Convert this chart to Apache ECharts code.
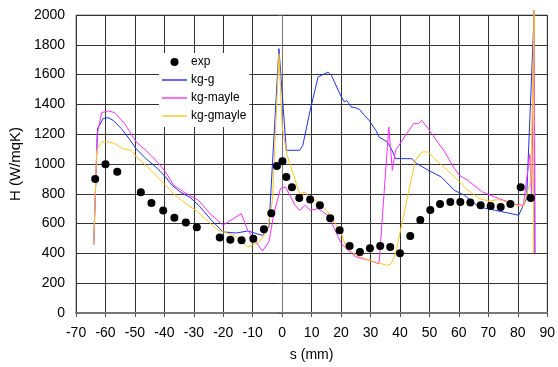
<!DOCTYPE html>
<html>
<head>
<meta charset="utf-8">
<script src="https://cdn.jsdelivr.net/npm/echarts@6/dist/echarts.min.js"></script>
<style>
  html, body { margin: 0; padding: 0; background: #fff; }
  #chart { width: 558px; height: 367px; }
</style>
</head>
<body>
<div id="chart"></div>
<script>
// measured points: [s (mm), H (W/mqK)]
const expData = [
  [-63.5, 900], [-60, 998], [-56, 948], [-48, 810], [-44.4, 738], [-40.4, 688],
  [-36.6, 640], [-32.7, 607], [-29, 575], [-21.2, 506], [-17.6, 492], [-13.8, 488],
  [-9.8, 499], [-6.2, 562], [-3.7, 669], [-1.8, 987], [0.1, 1018], [1.4, 913],
  [3.3, 844], [5.8, 772], [9.5, 761], [12.8, 723], [16.3, 636], [19.5, 555],
  [22.9, 450], [26.4, 410], [29.8, 434], [33.3, 450], [36.7, 443], [40, 401],
  [43.5, 517], [46.9, 624], [50.3, 691], [53.6, 731], [57.1, 745], [60.5, 745],
  [63.9, 741], [67.4, 723], [70.8, 718], [74.2, 711], [77.5, 731], [81, 844], [84.4, 772]
];

const kgG = [
  [-64, 460], [-62.7, 1237], [-60.8, 1305], [-59.1, 1311], [-57.4, 1293], [-54.6, 1237],
  [-52.4, 1181], [-49.6, 1103], [-46.3, 1036], [-42.9, 980], [-39.6, 913], [-37.4, 857],
  [-34.6, 812], [-31.2, 775], [-28, 715], [-24, 622], [-20.1, 544], [-15.6, 537],
  [-11.7, 550], [-6.7, 521], [-4.5, 577], [-2.6, 1250], [-1.1, 1774], [1.4, 1092],
  [5.9, 1092], [7, 1125], [9.5, 1360], [12.2, 1584], [15.6, 1617], [16.7, 1595],
  [20.1, 1450], [21.2, 1416], [21.9, 1427], [23.4, 1383], [25.1, 1376], [26.2, 1367],
  [27.9, 1327], [29.5, 1293], [31.8, 1226], [32.9, 1181], [35.7, 1148], [37.3, 1092],
  [38.5, 1036], [44, 1036], [45.7, 1003], [49.6, 958], [54, 913], [58.5, 823],
  [61.9, 790], [66.9, 711], [72.4, 689], [80.3, 656], [83, 768], [85.6, 2030], [85.8, 400]
];

const kgMayle = [
  [-64, 460], [-62.8, 1200], [-61.3, 1345], [-59.1, 1356], [-56.9, 1345], [-53.5, 1271],
  [-49.6, 1148], [-46.3, 1092], [-42.9, 1025], [-39.6, 946], [-36.8, 857], [-33.4, 812],
  [-28.4, 756], [-24.5, 667], [-20.1, 589], [-13.9, 667], [-11.7, 555], [-6.7, 416],
  [-4.5, 477], [-2.8, 667], [-0.6, 835], [1.1, 846], [4.4, 723], [5.9, 689],
  [7.8, 723], [9.5, 689], [12.2, 700], [15.6, 656], [20.1, 466], [22.3, 421],
  [25.1, 376], [29.5, 354], [32.9, 331], [36.2, 1248], [37.4, 958], [38.5, 1092],
  [44.6, 1271], [46.3, 1271], [47.4, 1293], [49.6, 1237], [55.2, 1081], [58.5, 969],
  [60.2, 924], [63, 891], [68, 812], [73.6, 768], [79.1, 729], [81.9, 723],
  [84.1, 1065], [84.7, 780], [85.6, 2030], [85.8, 400]
];

const kgGmayle = [
  [-64, 460], [-63, 1092], [-61.3, 1148], [-59.7, 1152], [-56.9, 1137], [-54.1, 1103],
  [-51.3, 1092], [-49, 1036], [-45.7, 980], [-42.4, 913], [-39, 846], [-36.3, 790],
  [-32.9, 735], [-29, 685], [-26.8, 644], [-21.7, 555], [-16.2, 521], [-11.7, 443],
  [-7.8, 477], [-5, 555], [-3.3, 756], [-1.1, 1741], [0, 1248], [1.7, 1058],
  [5.9, 801], [7.8, 812], [9.5, 768], [12.2, 745], [15.6, 678], [20.1, 533],
  [21.7, 443], [25.1, 387], [29.5, 354], [33, 335], [35.5, 320], [37, 330],
  [38.5, 399], [45.2, 1025], [47.4, 1081], [49.6, 1081], [52.9, 1014], [57.4, 936],
  [62.4, 835], [66.9, 768], [70.2, 752], [73.6, 761], [79.7, 723], [81.9, 716],
  [84.4, 890], [85.6, 2030], [85.3, 400]
];

const font = "Liberation Sans, Arial, sans-serif";
const lineIcon = "path://M0,0H25V1.4H0Z";

const lineSeries = (name, data, color) => ({
  name,
  type: "line",
  data,
  symbol: "none",
  clip: false,
  lineStyle: { width: 1, color },
  itemStyle: { color },
  z: 3,
});

const chart = echarts.init(document.getElementById("chart"), null, { renderer: "canvas" });
chart.setOption({
  animation: false,
  backgroundColor: "#fff",
  grid: { left: 72, right: 8, top: 15, bottom: 54, show: true, borderColor: "#888", borderWidth: 1 },
  legend: {
    orient: "vertical",
    left: 159,
    top: 53,
    backgroundColor: "#fff",
    padding: [3, 3, 5, 3],
    itemGap: 6,
    itemWidth: 25,
    itemHeight: 8,
    textStyle: { fontFamily: font, fontSize: 12, color: "#000", padding: [0, 0, 0, -1] },
    data: [
      { name: "exp", icon: "circle" },
      { name: "kg-g", icon: lineIcon },
      { name: "kg-mayle", icon: lineIcon },
      { name: "kg-gmayle", icon: lineIcon },
    ],
  },
  xAxis: {
    type: "value",
    min: -70,
    max: 90,
    interval: 10,
    name: "s (mm)",
    nameLocation: "middle",
    nameGap: 35,
    nameTextStyle: { fontFamily: font, fontSize: 14, color: "#000" },
    axisLine: { lineStyle: { color: "#777", width: 2 } },
    axisTick: { show: true, length: 4, lineStyle: { color: "#555" } },
    axisLabel: { fontFamily: font, fontSize: 14, color: "#000", margin: 13 },
    splitLine: { show: true, lineStyle: { color: "#333", width: 1 } },
  },
  yAxis: {
    type: "value",
    min: 0,
    max: 2000,
    interval: 200,
    name: "H (W/mqK)",
    nameLocation: "middle",
    nameGap: 51,
    nameTextStyle: { fontFamily: font, fontSize: 15, color: "#000" },
    axisLine: { show: true, lineStyle: { color: "#777", width: 1 } },
    axisTick: { show: true, length: 4, lineStyle: { color: "#555" } },
    axisLabel: { fontFamily: font, fontSize: 14, color: "#000", margin: 11, formatter: (v) => String(v) },
    splitLine: { show: true, lineStyle: { color: "#333", width: 1 } },
  },
  series: [
    {
      name: "exp",
      type: "scatter",
      data: expData,
      symbol: "circle",
      symbolSize: 8,
      itemStyle: { color: "#000", opacity: 1 },
      z: 4,
    },
    lineSeries("kg-g", kgG, "#1f2fff"),
    lineSeries("kg-mayle", kgMayle, "#ff2bff"),
    lineSeries("kg-gmayle", kgGmayle, "#ffc61a"),
  ],
});
</script>
</body>
</html>
